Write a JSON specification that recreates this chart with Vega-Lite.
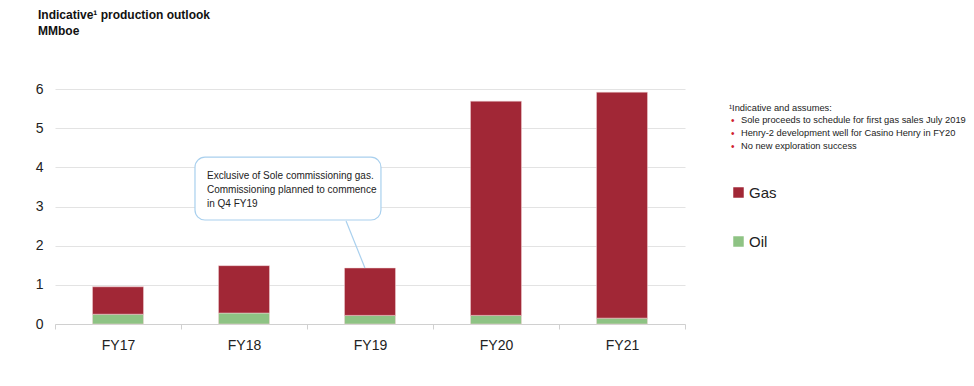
{
  "$schema": "https://vega.github.io/schema/vega-lite/v6.json",
  "width": 630,
  "height": 235,
  "autosize": "none",
  "padding": {"left": 55, "top": 89, "right": 289, "bottom": 62},
  "background": "white",
  "config": {"font": "Liberation Sans", "view": {"stroke": null}},
  "title": {
    "text": ["Indicative¹ production outlook", "MMboe"],
    "anchor": "start",
    "frame": "group",
    "dx": -17,
    "offset": 44,
    "fontSize": 12,
    "fontWeight": "bold",
    "color": "#111111",
    "lineHeight": 16
  },
  "layer": [
    {
      "data": {
        "values": [
          {"year": "FY17", "type": "Oil", "value": 0.25},
          {"year": "FY17", "type": "Gas", "value": 0.70},
          {"year": "FY18", "type": "Oil", "value": 0.28},
          {"year": "FY18", "type": "Gas", "value": 1.21},
          {"year": "FY19", "type": "Oil", "value": 0.22},
          {"year": "FY19", "type": "Gas", "value": 1.21},
          {"year": "FY20", "type": "Oil", "value": 0.22},
          {"year": "FY20", "type": "Gas", "value": 5.47},
          {"year": "FY21", "type": "Oil", "value": 0.15},
          {"year": "FY21", "type": "Gas", "value": 5.77}
        ]
      },
      "mark": {"type": "bar", "width": {"band": 0.405}, "stroke": "#f3d6d9", "strokeWidth": 0.5},
      "encoding": {
        "x": {
          "field": "year",
          "type": "nominal",
          "scale": {"paddingInner": 0, "paddingOuter": 0},
          "axis": {
            "title": null,
            "labelAngle": 0,
            "labelFontSize": 14,
            "labelColor": "#222222",
            "labelPadding": 9,
            "tickBand": "extent",
            "tickSize": 5,
            "tickColor": "#d0d0d0",
            "domainColor": "#d0d0d0",
            "grid": false
          }
        },
        "y": {
          "field": "value",
          "type": "quantitative",
          "stack": "zero",
          "scale": {"domain": [0, 6], "nice": false},
          "axis": {
            "title": null,
            "values": [0, 1, 2, 3, 4, 5, 6],
            "labelFontSize": 14,
            "labelColor": "#222222",
            "labelPadding": 12,
            "domain": false,
            "ticks": false,
            "gridColor": "#e3e3e3"
          }
        },
        "color": {
          "field": "type",
          "type": "nominal",
          "scale": {"domain": ["Gas", "Oil"], "range": ["#A12736", "#8EC384"]},
          "legend": {
            "title": null,
            "orient": "none",
            "legendX": 676,
            "legendY": 96,
            "symbolType": "square",
            "symbolSize": 110,
            "symbolStrokeWidth": 0,
            "labelFontSize": 15,
            "labelColor": "#222222",
            "labelOffset": 3,
            "rowPadding": 33
          }
        },
        "order": {"field": "type", "sort": "descending"}
      }
    },
    {
      "data": {"values": [{}]},
      "mark": {"type": "rect", "fill": "white", "stroke": "#a9d0ee", "strokeWidth": 1.2, "cornerRadius": 10},
      "encoding": {
        "x": {"datum": 1.111, "type": "quantitative", "scale": {"domain": [0, 5]}, "axis": null},
        "x2": {"datum": 2.587},
        "y": {"datum": 4.26, "type": "quantitative", "axis": null},
        "y2": {"datum": 2.655}
      }
    },
    {
      "data": {"values": [{}]},
      "mark": {"type": "rule", "stroke": "#a9d0ee", "strokeWidth": 1.2},
      "encoding": {
        "x": {"datum": 2.31, "type": "quantitative", "scale": {"domain": [0, 5]}, "axis": null},
        "x2": {"datum": 2.46},
        "y": {"datum": 2.63, "type": "quantitative", "axis": null},
        "y2": {"datum": 1.43}
      }
    },
    {
      "data": {"values": [{}]},
      "mark": {"type": "text", "align": "left", "baseline": "top", "fontSize": 10, "lineHeight": 14, "color": "#222222",
        "text": ["Exclusive of Sole commissioning gas.", "Commissioning planned to commence", "in Q4 FY19"]},
      "encoding": {
        "x": {"datum": 1.206, "type": "quantitative", "scale": {"domain": [0, 5]}, "axis": null},
        "y": {"datum": 3.9, "type": "quantitative", "axis": null}
      }
    },
    {
      "data": {"values": [{}]},
      "mark": {"type": "text", "align": "left", "baseline": "middle", "fontSize": 9.3, "lineHeight": 13, "color": "#222222",
        "text": ["¹Indicative and assumes:"]},
      "encoding": {
        "x": {"datum": 5.349, "type": "quantitative", "scale": {"domain": [0, 5]}, "axis": null},
        "y": {"datum": 5.52, "type": "quantitative", "axis": null}
      }
    },
    {
      "data": {"values": [{}]},
      "mark": {"type": "text", "align": "left", "baseline": "top", "fontSize": 10, "lineHeight": 13, "color": "#d0202e",
        "text": ["•", "•", "•"]},
      "encoding": {
        "x": {"datum": 5.365, "type": "quantitative", "scale": {"domain": [0, 5]}, "axis": null},
        "y": {"datum": 5.30, "type": "quantitative", "axis": null}
      }
    },
    {
      "data": {"values": [{}]},
      "mark": {"type": "text", "align": "left", "baseline": "top", "fontSize": 9.3, "lineHeight": 13, "color": "#222222",
        "text": ["Sole proceeds to schedule for first gas sales July 2019", "Henry-2 development well for Casino Henry in FY20", "No new exploration success"]},
      "encoding": {
        "x": {"datum": 5.444, "type": "quantitative", "scale": {"domain": [0, 5]}, "axis": null},
        "y": {"datum": 5.30, "type": "quantitative", "axis": null}
      }
    }
  ],
  "resolve": {"scale": {"x": "independent"}, "axis": {"y": "independent"}}
}
